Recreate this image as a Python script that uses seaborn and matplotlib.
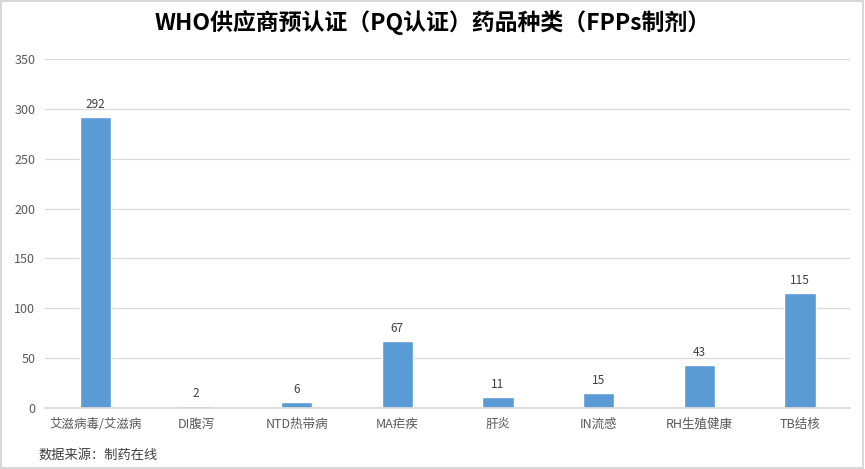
import matplotlib
matplotlib.use("Agg")
import matplotlib.pyplot as plt
import seaborn as sns
import pandas as pd
from matplotlib.patches import Rectangle

# 数据
categories = ["艾滋病毒/艾滋病", "DI腹泻", "NTD热带病", "MA疟疾", "肝炎", "IN流感", "RH生殖健康", "TB结核"]
counts = [292, 2, 6, 67, 11, 15, 43, 115]

sns.set_theme(style="white")
plt.rcParams['font.family'] = ['Noto Sans CJK SC', 'DejaVu Sans']

df = pd.DataFrame({"类别": categories, "数量": counts})

fig = plt.figure(figsize=(8.65, 4.69), dpi=100)
ax = fig.add_axes([0.052, 0.13, 0.931, 0.744])

sns.barplot(data=df, x="类别", y="数量", color="#5B9BD5", saturation=1, width=0.31, ax=ax)

ax.set_ylim(0, 350)
ax.set_yticks(range(0, 351, 50))
ax.yaxis.grid(True, color="#D9D9D9", linewidth=0.9)
ax.set_axisbelow(True)
for s in ["top", "right", "left"]:
    ax.spines[s].set_visible(False)
ax.spines["bottom"].set_color("#D9D9D9")
ax.tick_params(axis="both", length=0, labelsize=9, colors="#595959", pad=7)
ax.set_xlabel("")
ax.set_ylabel("")

for p, v in zip(ax.patches, counts):
    ax.text(p.get_x() + p.get_width() / 2, v + 6, str(v), ha="center", va="bottom",
            fontsize=8.5, color="#404040")

fig.text(0.5, 0.952, "WHO供应商预认证（PQ认证）药品种类（FPPs制剂）", ha="center", va="center",
         fontsize=16.5, fontweight="bold", color="#000000")
fig.text(0.044, 0.03, "数据来源：制药在线", ha="left", va="center", fontsize=9.5, color="#404040")

fig.patches.append(Rectangle((0.001, 0.002), 0.997, 0.995, transform=fig.transFigure,
                             fill=False, edgecolor="#D0D0D0", linewidth=1.2))

fig.savefig("out.png", dpi=100)
